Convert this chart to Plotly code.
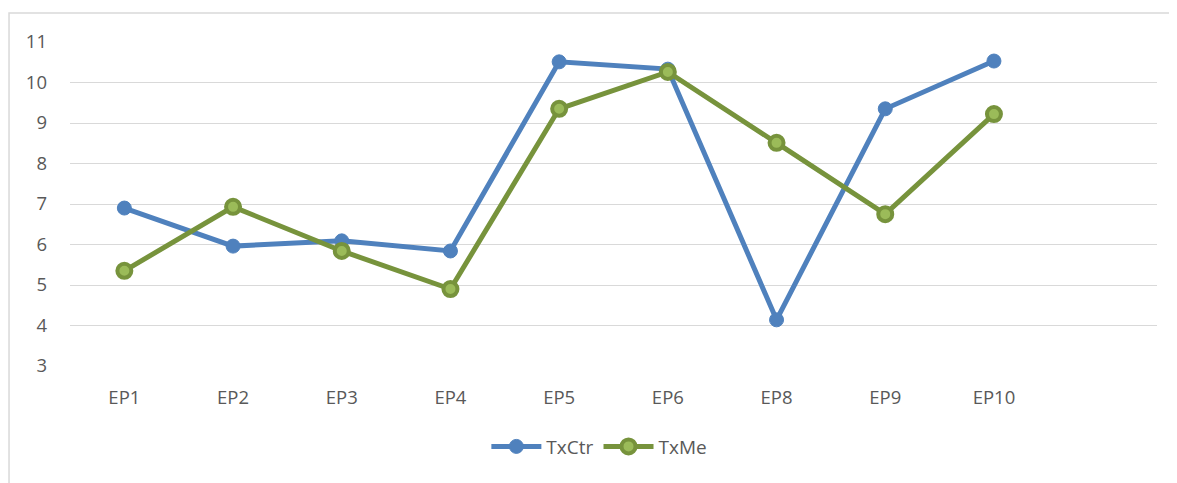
import plotly.graph_objects as go

categories = ["EP1", "EP2", "EP3", "EP4", "EP5", "EP6", "EP8", "EP9", "EP10", ""]
tx_ctr = [6.90, 5.96, 6.09, 5.84, 10.51, 10.33, 4.14, 9.35, 10.53]
tx_me = [5.35, 6.93, 5.84, 4.90, 9.35, 10.26, 8.51, 6.75, 9.22]
y_ticks = [3, 4, 5, 6, 7, 8, 9, 10, 11]

xpos = list(range(len(categories)))
font = dict(family="Open Sans, Noto Sans, sans-serif", size=18.5, color="#595959")

fig = go.Figure()
fig.add_trace(go.Scatter(
    x=xpos[:len(tx_ctr)], y=tx_ctr, name="TxCtr", mode="lines+markers",
    line=dict(color="#4F81BD", width=5),
    marker=dict(color="#4F81BD", size=14, line=dict(color="#4F81BD", width=1)),
))
fig.add_trace(go.Scatter(
    x=xpos[:len(tx_me)], y=tx_me, name="TxMe", mode="lines+markers",
    line=dict(color="#77933C", width=5),
    marker=dict(color="#9BBB59", size=14, line=dict(color="#77933C", width=4)),
))

fig.add_shape(type="rect", xref="paper", yref="paper",
              x0=-0.0561, y0=-0.6, x1=1.1, y1=1.0895,
              line=dict(color="#D9D9D9", width=1.5), layer="below")

fig.update_layout(
    width=1169, height=475,
    margin=dict(l=62, r=20, t=34, b=117),
    paper_bgcolor="white", plot_bgcolor="white",
    font=font,
    showlegend=True,
    legend=dict(orientation="h", x=0.487, xanchor="center", y=-0.19, yanchor="top",
                itemwidth=50,
                font=dict(family="Open Sans, Noto Sans, sans-serif", size=19, color="#595959")),
    xaxis=dict(
        range=[-0.5, len(categories) - 0.5],
        tickvals=xpos, ticktext=categories,
        showgrid=False, zeroline=False, showline=False,
        ticks="", ticklabelstandoff=18,
        tickfont=font,
    ),
    yaxis=dict(
        range=[3, 11], tickvals=y_ticks,
        showgrid=True, gridcolor="#D9D9D9", gridwidth=1.3,
        zeroline=False, showline=False,
        ticks="", ticklabelstandoff=22,
        tickfont=font,
    ),
)

fig.write_html("out.html")
